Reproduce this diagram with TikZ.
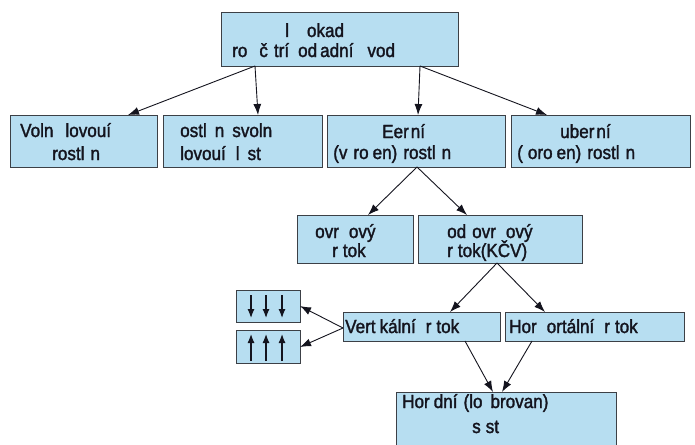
\documentclass[tikz,border=0pt]{standalone}
\usepackage{fontspec}
\setmainfont[FakeStretch=0.9,FakeBold=1.6]{Liberation Sans}
\usetikzlibrary{arrows.meta}
\definecolor{boxfill}{RGB}{183,222,241}
\definecolor{boxline}{RGB}{60,64,70}
\definecolor{txt}{RGB}{20,20,30}
\newcommand{\g}[1]{\hspace{#1pt}}
\tikzset{
  box/.style={draw=boxline, fill=boxfill, line width=1.3pt, inner sep=0pt, anchor=north west},
  lbl/.style={anchor=base west, inner sep=0pt, text=txt, font=\fontsize{19}{21}\selectfont},
  conn/.style={draw=txt, line width=0.9pt, -{Latex[length=11pt,width=8pt]}},
  tiny/.style={draw=txt, line width=1.2pt, -{Latex[length=9pt,width=7pt]}}
}
\begin{document}
\begin{tikzpicture}[x=1pt,y=-1pt]
\useasboundingbox (0,0) rectangle (695,444);
\fill[white] (0,0) rectangle (695,444);
% boxes
\node[box, minimum width=237pt, minimum height=54pt] (top) at (221,12) {};
\node[box, minimum width=147pt, minimum height=52pt] (b1) at (10,115) {};
\node[box, minimum width=159pt, minimum height=52pt] (b2) at (163,115) {};
\node[box, minimum width=178pt, minimum height=52pt] (b3) at (327,115) {};
\node[box, minimum width=179pt, minimum height=52pt] (b4) at (511,115) {};
\node[box, minimum width=116pt, minimum height=48pt] (c1) at (297,215) {};
\node[box, minimum width=164pt, minimum height=48pt] (c2) at (418,215) {};
\node[box, minimum width=64pt, minimum height=32pt] (sd) at (236,290) {};
\node[box, minimum width=64pt, minimum height=33pt] (su) at (236,330) {};
\node[box, minimum width=157pt, minimum height=29pt] (v) at (343,312) {};
\node[box, minimum width=179pt, minimum height=29pt] (h) at (505,312) {};
\node[box, minimum width=220pt, minimum height=70pt] (bot) at (396,392) {};
% texts
\node[lbl] (t0a) at (285,37) {l\g{18}okad};
\node[lbl] (t0b) at (232,57) {ro\g{12}č\g{6}trí\g{9}od\g{3}adní\g{14}vod};
\node[lbl] (t1a) at (20,137) {Voln\g{12}lovouí};
\node[lbl] (t1b) at (52,160) {rostl\g{6}n};
\node[lbl] (t2a) at (180,137) {ostl\g{8}n\g{8}svoln};
\node[lbl] (t2b) at (180,160) {lovouí\g{10}l\g{8}st};
\node[lbl] (t3a) at (382,138) {Eer\g{2}ní};
\node[lbl] (t3b) at (333,159) {(v\g{6}ro\g{4}en)\g{6}rostl\g{6}n};
\node[lbl] (t4a) at (560,138) {uber\g{2}ní};
\node[lbl] (t4b) at (517,159) {(\g{5}oro\g{4}en)\g{6}rostl\g{6}n};
\node[lbl] (t5a) at (315,238) {ovr\g{10}ový};
\node[lbl] (t5b) at (332,257) {r\g{5}tok};
\node[lbl] (t6a) at (447,238) {od\g{6}ovr\g{10}ový};
\node[lbl] (t6b) at (447,257) {r\g{5}tok(KČV)};
\node[lbl] (t7) at (345,333) {Vert\g{4}kální\g{10}r\g{5}tok};
\node[lbl] (t8) at (509,333) {Hor\g{10}ortální\g{10}r\g{5}tok};
\node[lbl] (t9a) at (402,408) {Hor\g{4}dní\g{6}(lo\g{8}brovan)};
\node[lbl] (t9b) at (472,433) {s\g{5}st};
% connector anchors
\coordinate (top1) at (255,66);
\coordinate (top2) at (420,66);
\coordinate (b1t) at (128,115);
\coordinate (b2t) at (258,115);
\coordinate (b3t) at (418,115);
\coordinate (b4t) at (547,115);
\coordinate (b3b) at (417,167);
\coordinate (c1t) at (368,215);
\coordinate (c2t) at (467,215);
\coordinate (c2b) at (497,263);
\coordinate (vt) at (450,312);
\coordinate (ht) at (545,312);
\coordinate (vl) at (343,328);
\coordinate (sdr) at (300,306);
\coordinate (sur) at (300,347);
\coordinate (vb) at (465,341);
\coordinate (hb) at (532,341);
\coordinate (bt1) at (493,392);
\coordinate (bt2) at (502,392);
\draw[conn] (top1) -- (b1t);
\draw[conn] (top1) -- (b2t);
\draw[conn] (top2) -- (b3t);
\draw[conn] (top2) -- (b4t);
\draw[conn] (b3b) -- (c1t);
\draw[conn] (b3b) -- (c2t);
\draw[conn] (c2b) -- (vt);
\draw[conn] (c2b) -- (ht);
\draw[conn] (vl) -- (sdr);
\draw[conn] (vl) -- (sur);
\draw[conn] (vb) -- (bt1);
\draw[conn] (hb) -- (bt2);
% small arrows
\foreach \xx in {251,266,282}{
  \draw[tiny] (\xx,295) -- (\xx,318);
  \draw[tiny] (\xx,361) -- (\xx,334);
}
\end{tikzpicture}
\end{document}
